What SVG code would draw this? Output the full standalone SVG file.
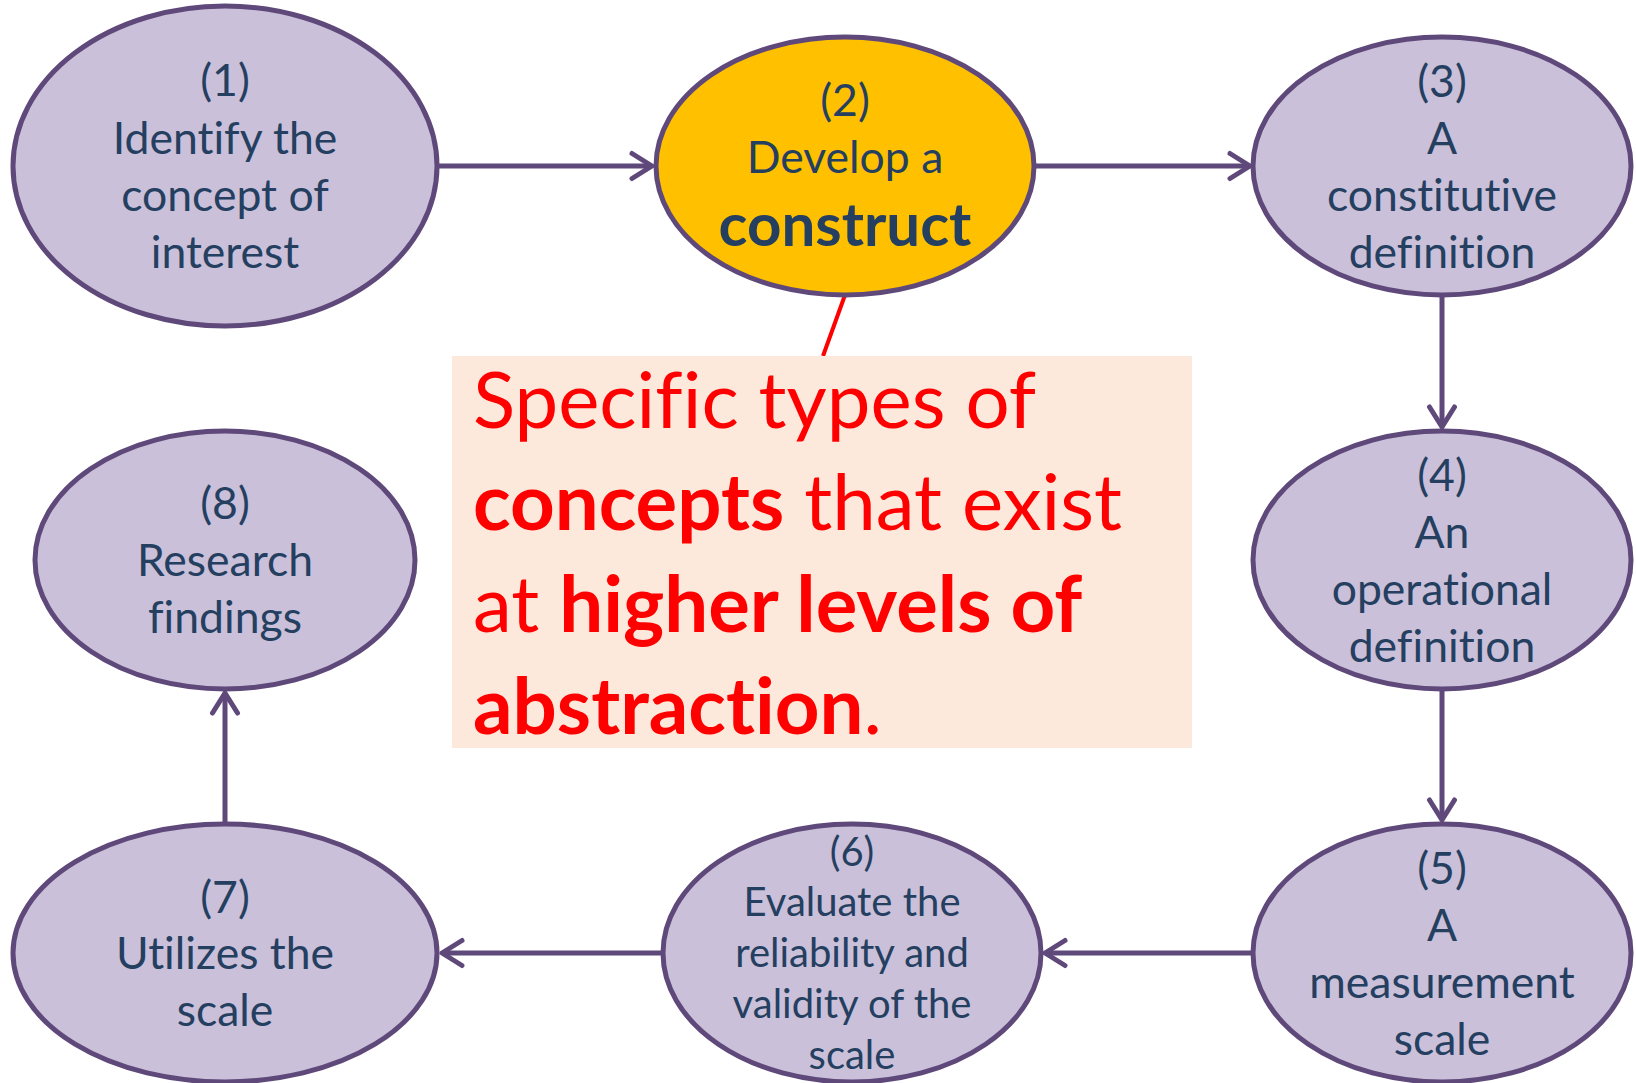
<svg xmlns="http://www.w3.org/2000/svg" width="1636" height="1083" viewBox="0 0 1636 1083">
<style>
.node{fill:#CBC0DA;stroke:#5F497A;stroke-width:5}
.hl{fill:#FFC000}
text{font-variant-ligatures:none}
.t{font-family:Lato,"Liberation Sans",sans-serif;font-size:44.5px;fill:#243F60;text-anchor:middle}
.t6{font-size:40px}
.big{font-size:60px;font-weight:bold}
.conn{stroke:#5F497A;stroke-width:5;fill:none}
.call{font-family:Lato,"Liberation Sans",sans-serif;font-size:78px;fill:#FF0000}
.b{font-weight:bold}
</style>
<defs>
<marker id="arr" viewBox="-26 -18 30 36" markerWidth="30" markerHeight="36" refX="0" refY="0" markerUnits="userSpaceOnUse" orient="auto">
<path d="M-20,-12.5 L0,0 L-20,12.5" fill="none" stroke="#5F497A" stroke-width="5" stroke-linecap="round" stroke-linejoin="round"/>
</marker>
</defs>
<rect width="1636" height="1083" fill="#FFFFFF"/>
<g id="connectors">
<line class="conn" x1="437" y1="166" x2="652" y2="166" marker-end="url(#arr)"/>
<line class="conn" x1="1034" y1="166" x2="1250" y2="166" marker-end="url(#arr)"/>
<line class="conn" x1="1442" y1="295" x2="1442" y2="427" marker-end="url(#arr)"/>
<line class="conn" x1="1442" y1="689" x2="1442" y2="820" marker-end="url(#arr)"/>
<line class="conn" x1="1253" y1="953" x2="1045" y2="953" marker-end="url(#arr)"/>
<line class="conn" x1="663" y1="953" x2="442" y2="953" marker-end="url(#arr)"/>
<line class="conn" x1="225" y1="824" x2="225" y2="693" marker-end="url(#arr)"/>
<line x1="845" y1="295" x2="823" y2="356" stroke="#FF0000" stroke-width="4"/>
</g>
<g id="node1">
<ellipse class="node" cx="225" cy="166" rx="212" ry="160"/>
<text class="t" x="225" y="96">(1)</text>
<text class="t" x="225" y="154">Identify the</text>
<text class="t" x="225" y="211">concept of</text>
<text class="t" x="225" y="268">interest</text>
</g>
<g id="node2">
<ellipse class="node hl" cx="845" cy="166" rx="189" ry="129"/>
<text class="t" x="845" y="116">(2)</text>
<text class="t" x="845" y="173">Develop a</text>
<text class="t big" x="845" y="246">construct</text>
</g>
<g id="node3">
<ellipse class="node" cx="1442" cy="166" rx="189" ry="129"/>
<text class="t" x="1442" y="97">(3)</text>
<text class="t" x="1442" y="154">A</text>
<text class="t" x="1442" y="211">constitutive</text>
<text class="t" x="1442" y="268">definition</text>
</g>
<g id="node4">
<ellipse class="node" cx="1442" cy="560" rx="189" ry="129"/>
<text class="t" x="1442" y="491">(4)</text>
<text class="t" x="1442" y="548">An</text>
<text class="t" x="1442" y="605">operational</text>
<text class="t" x="1442" y="662">definition</text>
</g>
<g id="node5">
<ellipse class="node" cx="1442" cy="953" rx="189" ry="129"/>
<text class="t" x="1442" y="884">(5)</text>
<text class="t" x="1442" y="941">A</text>
<text class="t" x="1442" y="998">measurement</text>
<text class="t" x="1442" y="1055">scale</text>
</g>
<g id="node6">
<ellipse class="node" cx="852" cy="953" rx="189" ry="129"/>
<text class="t t6" x="852" y="866">(6)</text>
<text class="t t6" x="852" y="916">Evaluate the</text>
<text class="t t6" x="852" y="967">reliability and</text>
<text class="t t6" x="852" y="1018">validity of the</text>
<text class="t t6" x="852" y="1069">scale</text>
</g>
<g id="node7">
<ellipse class="node" cx="225" cy="953" rx="212" ry="129"/>
<text class="t" x="225" y="913">(7)</text>
<text class="t" x="225" y="969">Utilizes the</text>
<text class="t" x="225" y="1026">scale</text>
</g>
<g id="node8">
<ellipse class="node" cx="225" cy="560" rx="190" ry="129"/>
<text class="t" x="225" y="519">(8)</text>
<text class="t" x="225" y="576">Research</text>
<text class="t" x="225" y="633">findings</text>
</g>
<g id="callout">
<rect x="452" y="356" width="740" height="392" fill="#FCE9DB"/>
<text class="call" x="473" y="428">Specific types of</text>
<text class="call" x="473" y="530"><tspan class="b">concepts</tspan> that exist</text>
<text class="call" x="473" y="632">at <tspan class="b">higher levels of</tspan></text>
<text class="call" x="473" y="734"><tspan class="b">abstraction</tspan>.</text>
</g>
</svg>
